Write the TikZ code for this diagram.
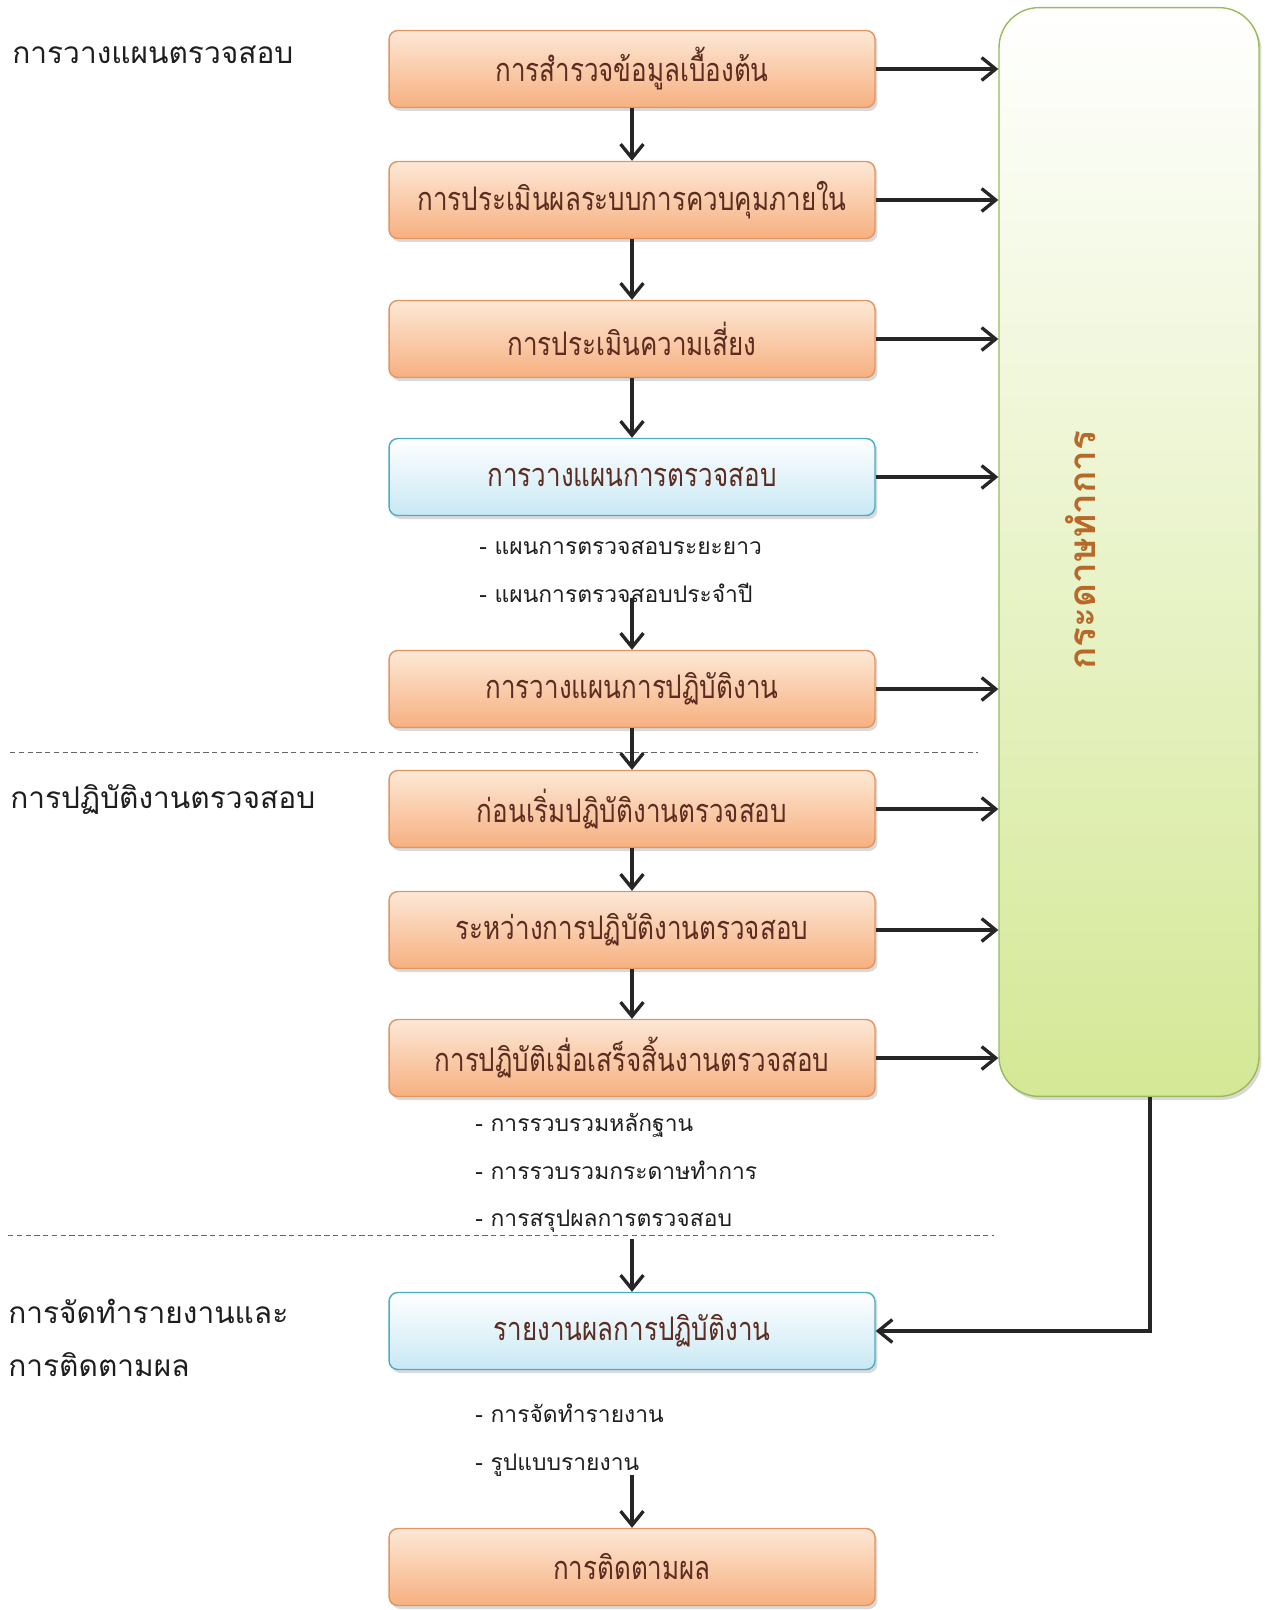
\documentclass[tikz,border=0pt]{standalone}
\usepackage{fontspec}
\newfontfamily\thaifont[Script=Thai]{Loma}
\newfontfamily\thaicond[Script=Thai, FakeStretch=0.8]{Loma}
\usetikzlibrary{arrows.meta}
\usetikzlibrary{shadows}
\definecolor{stepTop}{RGB}{253,232,214}
\definecolor{stepBot}{RGB}{246,176,128}
\definecolor{stepLine}{RGB}{228,148,96}
\definecolor{stepText}{RGB}{92,44,32}
\definecolor{planTop}{RGB}{255,255,255}
\definecolor{planBot}{RGB}{200,232,244}
\definecolor{planLine}{RGB}{75,172,198}
\definecolor{paperBot}{RGB}{212,232,150}
\definecolor{paperLine}{RGB}{155,187,89}
\definecolor{paperText}{RGB}{184,104,40}
\definecolor{labelText}{RGB}{30,30,30}

\begin{document}
\begin{tikzpicture}[x = 0.02cm, y = -0.02cm, font=\thaifont]
	\tikzstyle{boxStyle} = [shape = rectangle, rounded corners = 5pt, minimum width = 9.72cm, minimum height = 1.54cm, inner sep = 0pt, line width = 0.8pt, text = stepText, font = \thaicond\fontsize{18.5}{21}\selectfont, drop shadow = {shadow xshift = 0.05cm, shadow yshift = -0.07cm, opacity = 0.3}]
	\tikzstyle{stepStyle} = [boxStyle, draw = stepLine, top color = stepTop, bottom color = stepBot]
	\tikzstyle{planStyle} = [boxStyle, draw = planLine, top color = planTop, bottom color = planBot]
	\tikzstyle{paperStyle} = [shape = rectangle, rounded corners = 0.8cm, minimum width = 5.2cm, minimum height = 21.78cm, draw = paperLine, line width = 0.8pt, top color = white, bottom color = paperBot, drop shadow = {shadow xshift = 0.05cm, shadow yshift = -0.07cm, opacity = 0.3}]
	\tikzstyle{noteStyle} = [anchor = north west, inner sep = 0pt, align = left, text = labelText, font = \thaifont\fontsize{13}{27}\selectfont]
	\tikzstyle{phaseStyle} = [anchor = west, inner sep = 0pt, align = left, text = labelText, font = \thaifont\fontsize{17}{30.6}\selectfont]
	\tikzstyle{arrowStyle} = [-{Straight Barb[length = 8pt, width = 13pt]}, line width = 1.9pt, draw = black!85]
	\tikzstyle{sepStyle} = [densely dashed, line width = 0.5pt, draw = black!60]
	\useasboundingbox (0,0) rectangle (1265,1610);
	\node[stepStyle] (v0) at (632, 69) {การสำรวจข้อมูลเบื้องต้น};
	\node[stepStyle] (v1) at (632, 200) {การประเมินผลระบบการควบคุมภายใน};
	\node[stepStyle] (v2) at (632, 339) {การประเมินความเสี่ยง};
	\node[planStyle] (v3) at (632, 477) {การวางแผนการตรวจสอบ};
	\node[stepStyle] (v4) at (632, 689) {การวางแผนการปฏิบัติงาน};
	\node[stepStyle] (v5) at (632, 809) {ก่อนเริ่มปฏิบัติงานตรวจสอบ};
	\node[stepStyle] (v6) at (632, 930) {ระหว่างการปฏิบัติงานตรวจสอบ};
	\node[stepStyle] (v7) at (632, 1058) {การปฏิบัติเมื่อเสร็จสิ้นงานตรวจสอบ};
	\node[planStyle] (v8) at (632, 1331) {รายงานผลการปฏิบัติงาน};
	\node[stepStyle] (v9) at (632, 1567) {การติดตามผล};
	\node[paperStyle] (wp) at (1129, 552) {};
	\node[rotate = 90, text = paperText, font = \thaifont\bfseries\fontsize{21}{24}\selectfont] (wpText) at (1081, 550) {กระดาษทำการ};
	\node[phaseStyle] (l0) at (12, 55) {การวางแผนตรวจสอบ};
	\node[phaseStyle] (l1) at (10, 800) {การปฏิบัติงานตรวจสอบ};
	\node[phaseStyle] (l2) at (8, 1338) {การจัดทำรายงานและ\\การติดตามผล};
	\node[noteStyle] (d3) at (479, 541) {- แผนการตรวจสอบระยะยาว\\- แผนการตรวจสอบประจำปี};
	\node[noteStyle] (d7) at (475, 1113) {- การรวบรวมหลักฐาน\\- การรวบรวมกระดาษทำการ\\- การสรุปผลการตรวจสอบ};
	\node[noteStyle] (d8) at (475, 1404) {- การจัดทำรายงาน\\- รูปแบบรายงาน};
	\coordinate (c3) at (632, 598);
	\coordinate (c7) at (632, 1239);
	\coordinate (c8) at (632, 1475);
	\draw[sepStyle] (10, 752) -- (978, 752);
	\draw[sepStyle] (8, 1235) -- (994, 1235);
	\draw[arrowStyle] (v0) -- (v1);
	\draw[arrowStyle] (v1) -- (v2);
	\draw[arrowStyle] (v2) -- (v3);
	\draw[arrowStyle] (c3) -- (v4);
	\draw[arrowStyle] (v4) -- (v5);
	\draw[arrowStyle] (v5) -- (v6);
	\draw[arrowStyle] (v6) -- (v7);
	\draw[arrowStyle] (c7) -- (v8);
	\draw[arrowStyle] (c8) -- (v9);
	\draw[arrowStyle] (v0.east) -- (v0.east -| wp.west);
	\draw[arrowStyle] (v1.east) -- (v1.east -| wp.west);
	\draw[arrowStyle] (v2.east) -- (v2.east -| wp.west);
	\draw[arrowStyle] (v3.east) -- (v3.east -| wp.west);
	\draw[arrowStyle] (v4.east) -- (v4.east -| wp.west);
	\draw[arrowStyle] (v5.east) -- (v5.east -| wp.west);
	\draw[arrowStyle] (v6.east) -- (v6.east -| wp.west);
	\draw[arrowStyle] (v7.east) -- (v7.east -| wp.west);
	\draw[arrowStyle] ([xshift = 0.42cm]wp.south) |- (v8.east);
\end{tikzpicture}
\end{document}
